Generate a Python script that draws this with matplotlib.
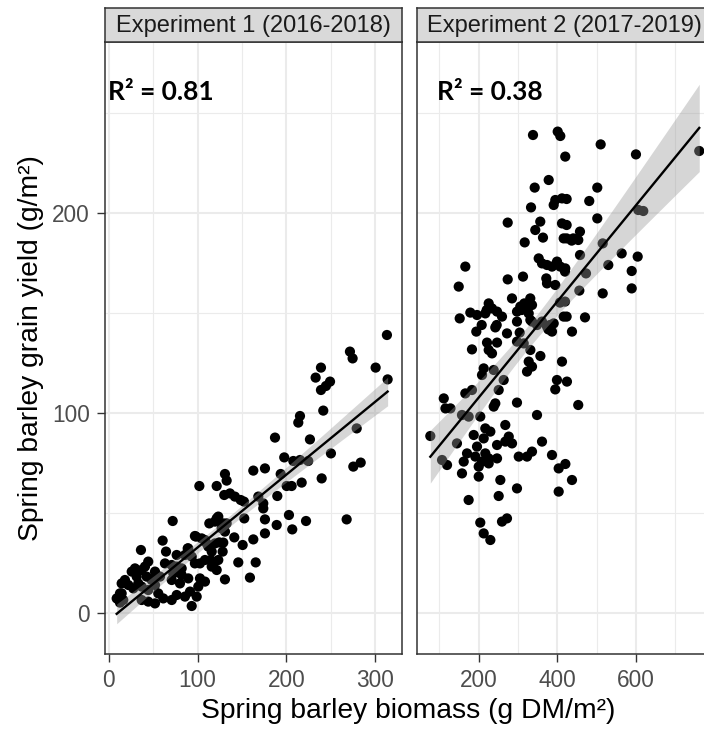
import numpy as np
import matplotlib
matplotlib.use("Agg")
import matplotlib.pyplot as plt

# ---------------- data ----------------
# Experiment 1 (2016-2018): biomass (g DM/m2), grain yield (g/m2)
x1 = [313, 271.4, 274.4, 300.3, 313.8, 238.8, 232.8, 249, 244.4, 238.8, 241.4, 215.2,
      213.3, 187.1, 226.4, 279, 250, 197.5, 207.7, 215.2, 224.5, 283.5, 275.2, 162.7,
      175.8, 130.8, 132.7, 193.5, 239.6, 217.1, 200.2, 205.8, 102, 121.5, 130, 136.4,
      142, 148.5, 152.2, 168.3, 173.9, 173.9, 189.7, 267.7, 222, 202.8, 206.5, 189,
      175.8, 175.8, 162.7, 150.7, 165.4, 145.8, 158.9, 130.8, 113.2, 121.5, 128.9, 132.7,
      152.5, 141.3, 130.8, 124.4, 128.2, 98.2, 108.3, 112, 114.7, 72, 60.7, 36.3,
      88.9, 100.8, 93.4, 9, 14.6, 12.7,
      104.6, 110.2, 115.9, 117.7, 102.7, 127.1, 119.6,
      123.3, 97, 64.5, 89.5, 44.5, 40.8, 25.9, 31.5, 63.3, 70.9, 76.5, 82.1, 97,
      108.3, 123.3, 119.6, 128.9, 22.1, 27.7, 33.3, 12.7, 10.8, 16.4, 37.1, 44.5,
      52.1, 55.8, 61.4, 70.9, 76.5, 85.8, 91.5, 99, 37.1, 44.5, 52.1, 70.9, 80.2,
      89.5, 82.1, 72.7, 52.1, 57.7, 42.7, 48.4, 85.8, 93.4, 76.5, 102.7, 108.3,
      115.9, 121.5, 18.3, 14.6, 29.6, 37.1]
y1 = [139, 130.7, 127.3, 122.7, 116.8, 122.7, 117.7, 115.7, 113.5, 111.5, 101.2, 98.5,
      95.2, 87.7, 86.8, 92.3, 79.8, 77.8, 76, 76.5, 76, 75.2, 73.2, 71.2,
      72.3, 69.5, 66.2, 69.5, 67.3, 65.2, 63.5, 63.5, 63.5, 63.5, 59, 59.8,
      58.2, 56.5, 55.7, 58.2, 54.8, 52.3, 58.5, 46.8, 46, 49, 41.8, 44,
      46.8, 39.8, 36.8, 34, 25.3, 25.3, 17.7, 16.8, 44.8, 47.3, 44.8, 44.8,
      47.3, 37.8, 40.7, 35.3, 30.7, 38.2, 36.5, 33.2, 26.5, 46, 36.2, 31.5,
      32.3, 13.2, 3.5, 7.3, 9.8, 5.2,
      37.3, 34.8, 30.7, 24.8, 24.8, 42.3, 45.7,
      48.2, 38.5, 30.7, 32.3, 25.7, 23.2, 20.7, 18.2, 24.8, 24, 23.2, 22.3, 24.8,
      26.5, 26.5, 34.8, 35.2, 14, 12.3, 14.8, 9.8, 6.8, 6.5, 13.2, 11.5,
      14, 9.8, 7.3, 6.5, 9, 8.2, 10.7, 8.2, 6.5, 5.7, 4.8, 16.5, 14.8,
      17.3, 19, 19.8, 20.7, 18.2, 18.2, 16.5, 29, 28.2, 29, 17.3, 15.7,
      23.2, 21.5, 16.5, 14.8, 22.3, 21.5]

# Experiment 2 (2017-2019)
x2 = [338, 400.8, 407.4, 420, 377.9, 342.3, 394.7, 390.6, 411.7, 333, 273.7, 356.5,
      343.8, 363.4, 411.7, 416, 316.9, 166, 149.2, 352.5, 360.9, 373.6, 386.3, 399,
      407.4, 420.1, 273.7, 312.6, 371.8, 373.6, 394.7, 284.6, 315.9, 331.1, 335.5, 297.4,
      322.8, 225.4, 233.8, 178.7, 195.7, 216.8, 151.7, 259.2,
      510, 599.7, 760.6, 501.4, 423.5, 481, 501.4, 605.6, 618.3, 423.5, 457.4, 440.4,
      423.5, 515.2, 457.5, 563.4, 604.1, 529.4, 588.9, 419.4, 472.7, 588.9, 515.2, 455.8,
      419.4, 423.5, 470.2,
      436.3, 453.1, 309.3, 220.3, 245.7, 207.6, 406.6, 381.2, 377,
      246.6, 305.7, 327.1, 331.3, 297.3, 193.9, 242.2, 271.9, 304.2, 335.5, 348.2, 360.9,
      373.6, 386.3, 390.6, 416, 437.1, 221.1, 246.6, 225.4, 233.8, 182.9, 297.3, 314.4,
      331.3, 356.8, 327.1, 335.5, 322.8, 411.7, 398.9, 424.3, 394.6, 453, 212.7, 208.4,
      238.1, 263.5, 250.8, 182.9, 166, 157.5, 174.4, 204, 111.2, 115.5, 128.2, 242.2,
      238.1, 297.3, 348.2, 77, 144.7, 106.8, 119.5, 187.3, 216.8, 229.6, 212.7, 267.6,
      246.6, 267.6, 276.4, 284.7, 195.7, 170.3, 191.4, 216.8, 225.4, 208.4, 161.9, 200,
      225.4, 246.6, 157.5, 200, 255, 250.8, 174.4, 297.3, 301.8, 322.8, 335.5, 360.9,
      386.3, 403.3, 420.3, 437.1, 403.3, 204, 259.2, 271.9, 212.7, 229.6]
y2 = [239, 240.7, 238.5, 228.2, 216.5, 212.7, 206.5, 204, 207.3, 202.8, 195.2, 195.7,
      191.5, 187.7, 194.8, 187.3, 185.3, 173.2, 163.2, 177.3, 174.8, 174, 173.2, 175.7,
      173.2, 172.3, 166.8, 168.2, 167.3, 164.8, 164, 157.3, 154.8, 157.3, 154, 150.7,
      152.3, 154.8, 152.3, 150.2, 149, 149.8, 147.3, 148.2,
      234.3, 229.3, 231, 212.7, 207, 206, 197.3, 201.5, 201, 194, 190.7, 187.3,
      187.3, 184.8, 179, 179.8, 178.2, 174, 171, 170.7, 169.8, 162.3, 159.8, 161.2,
      155.7, 148.2, 147.8,
      186.2, 186.5, 151.5, 151.5, 144, 144, 155.2, 144, 141.8,
      150.7, 153.2, 149.8, 146.5, 145.7, 140.7, 142.8, 139.8, 140.2, 145.7, 144, 145.7,
      143.2, 140.7, 144.8, 148.2, 140.7, 135.2, 135.2, 131.5, 129.8, 131.8, 135.7, 134.8,
      131.5, 128.5, 125.7, 123.2, 120.7, 125.7, 116.5, 115.7, 111.8, 104, 122.3, 119,
      121.5, 116.5, 111.5, 111.5, 109.8, 99, 98.2, 98.2, 107.3, 102.3, 102.3, 104.8,
      103.2, 105.2, 99, 88.5, 84.8, 76.5, 74, 89, 92.3, 90.7, 87.3, 94,
      84, 85.7, 88.2, 84.8, 83.2, 79.8, 78.2, 79.8, 77.3, 75.7, 75.7, 73.2,
      74.8, 77.3, 69.8, 68.2, 66.5, 58.5, 56.5, 62.3, 78.2, 78.2, 80.7, 85.7,
      79, 72.3, 74.5, 66.5, 60.7, 45.2, 45.7, 47.3, 39.8, 36.5]

strip_labels = ["Experiment 1 (2016-2018)", "Experiment 2 (2017-2019)"]
r2_labels = ["R\u00b2 = 0.81", "R\u00b2 = 0.38"]
x_title = "Spring barley biomass (g DM/m\u00b2)"
y_title = "Spring barley grain yield (g/m\u00b2)"
x1_major = [0, 100, 200, 300]
x1_minor = [50, 150, 250]
x2_major = [200, 400, 600]
x2_minor = [100, 300, 500, 700]
y_major = [0, 100, 200]
y_minor = [50, 150, 250]


def lm_band(x, y, n_grid=100, t=1.972):
    x = np.asarray(x, float)
    y = np.asarray(y, float)
    n = len(x)
    b, a = np.polyfit(x, y, 1)
    res = y - (a + b * x)
    s = np.sqrt(np.sum(res ** 2) / (n - 2))
    xbar = x.mean()
    sxx = np.sum((x - xbar) ** 2)
    xg = np.linspace(x.min(), x.max(), n_grid)
    yg = a + b * xg
    se = s * np.sqrt(1.0 / n + (xg - xbar) ** 2 / sxx)
    return xg, yg, yg - t * se, yg + t * se


W, H = 704, 729
fig = plt.figure(figsize=(W / 100, H / 100), dpi=100)
fig.patch.set_facecolor("white")

FONT = "Liberation Sans"
DARK = "#333333"
GRID = "#ebebeb"

panel_top, panel_bot = 42, 654
strip_top = 8
panels = [
    dict(left=104.5, right=401.5, xlim=(-4.7, 329.4), x=x1, y=y1,
         major=x1_major, minor=x1_minor, r2x=108),
    dict(left=416.7, right=712.0, xlim=(42.4, 793.0), x=x2, y=y2,
         major=x2_major, minor=x2_minor, r2x=437),
]

for i, p in enumerate(panels):
    ax = fig.add_axes([p["left"] / W, 1 - panel_bot / H,
                       (p["right"] - p["left"]) / W, (panel_bot - panel_top) / H])
    ax.set_xlim(*p["xlim"])
    ax.set_ylim(-20.5, 285.5)
    ax.set_facecolor("white")
    # grid
    for v in p["minor"]:
        ax.axvline(v, color=GRID, lw=0.8, zorder=0)
    for v in p["major"]:
        ax.axvline(v, color=GRID, lw=1.5, zorder=0)
    for v in y_minor:
        ax.axhline(v, color=GRID, lw=0.8, zorder=0)
    for v in y_major:
        ax.axhline(v, color=GRID, lw=1.5, zorder=0)
    # points
    ax.scatter(p["x"], p["y"], s=54, color="black", edgecolors="none", zorder=2)
    # smooth (lm with 95% band)
    xg, yg, lo, hi = lm_band(p["x"], p["y"])
    ax.fill_between(xg, lo, hi, color="#999999", alpha=0.4, linewidth=0, zorder=3)
    ax.plot(xg, yg, color="black", lw=1.7, zorder=4)
    # R2 label
    fig.text(p["r2x"] / W, 1 - 92 / H, r2_labels[i], fontsize=19,
             fontweight="bold", family="Lato", color="black", va="center", ha="left")
    # ticks
    ax.set_xticks(p["major"])
    ax.set_yticks(y_major)
    ax.tick_params(axis="both", which="major", length=5.5, width=1.0, color=DARK,
                   labelsize=16.3, labelcolor="#4d4d4d")
    ax.tick_params(axis="x", pad=5.5)
    ax.tick_params(axis="y", pad=5.0)
    for lab in ax.get_xticklabels() + ax.get_yticklabels():
        lab.set_family(FONT)
    if i == 1:
        ax.tick_params(axis="y", left=False, labelleft=False)
    for sp in ax.spines.values():
        sp.set_color(DARK)
        sp.set_linewidth(1.1)

    # strip
    sax = fig.add_axes([p["left"] / W, 1 - panel_top / H,
                        (p["right"] - p["left"]) / W, (panel_top - strip_top) / H])
    sax.set_facecolor("#d9d9d9")
    sax.set_xticks([])
    sax.set_yticks([])
    for sp in sax.spines.values():
        sp.set_color(DARK)
        sp.set_linewidth(1.1)
    sax.text(0.5, 0.47, strip_labels[i], transform=sax.transAxes, ha="center",
             va="center", fontsize=17, family=FONT, color="#1a1a1a")

fig.text(408 / W, 1 - 711 / H, x_title, ha="center", va="center", fontsize=20.3,
         family=FONT, color="black")
fig.text(31 / W, 1 - 348 / H, y_title, ha="center", va="center", rotation=90,
         fontsize=20.3, family=FONT, color="black")

fig.savefig("out.png", dpi=100, facecolor="white")
